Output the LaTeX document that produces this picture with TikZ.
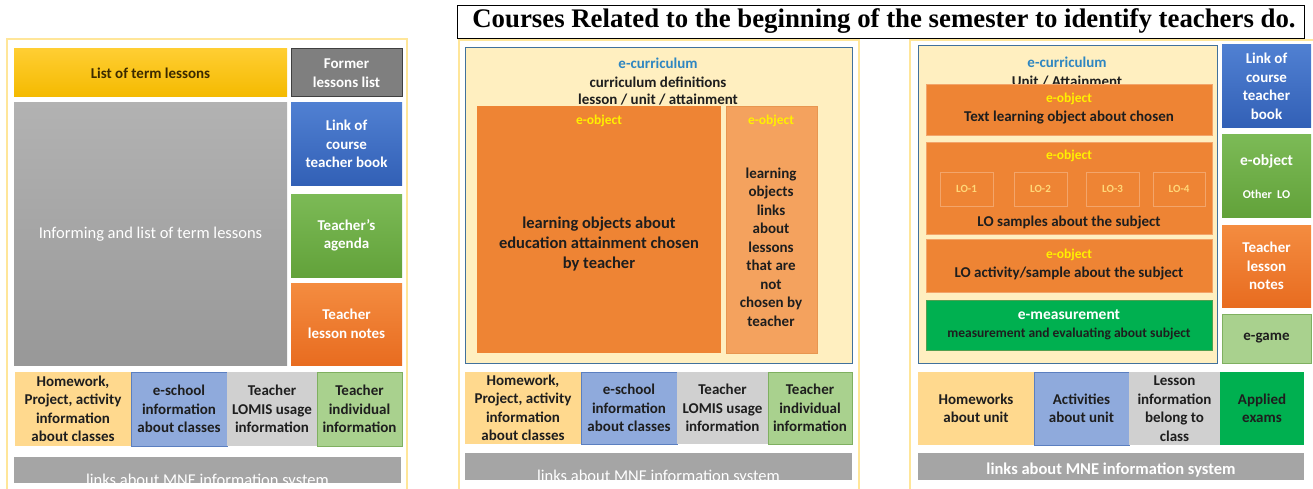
\documentclass[tikz,border=0pt]{standalone}
\usepackage{fontspec}
\setmainfont{Carlito}
\newfontfamily\titlefont{Liberation Serif}
\newcommand\fs[2]{\fontsize{#1}{#2}\selectfont}
\definecolor{cGray}{HTML}{A5A5A5}
\definecolor{cDGray}{HTML}{7F7F7F}
\definecolor{cLYel}{HTML}{FFD98E}
\definecolor{cLBlue}{HTML}{8FAADC}
\definecolor{cLBlueB}{HTML}{5B7FC0}
\definecolor{cLGray}{HTML}{D0D0D0}
\definecolor{cLGreen}{HTML}{A9D18E}
\definecolor{cLGreenB}{HTML}{7FB060}
\definecolor{cPanel}{HTML}{FFE699}
\definecolor{cCurr}{HTML}{FFEFC0}
\definecolor{cCurrB}{HTML}{41719C}
\definecolor{cOrange}{HTML}{EE8434}
\definecolor{cOrangeB}{HTML}{F3A56A}
\definecolor{cLOrange}{HTML}{F4A25E}
\definecolor{cEG}{HTML}{00B050}
\definecolor{cTeal}{HTML}{2E86C1}
\definecolor{cEobj}{HTML}{FFF000}
\definecolor{cDark}{HTML}{1E1E1E}
\definecolor{cBrown}{HTML}{3B2A00}
\newcommand\bx[7]{\node[bxs,#6,minimum width={#4-#2},minimum height={#5-#3},anchor=north west] (#1) at (#2,#3) {#7};}
\tikzset{
  bxs/.style={inner sep=0pt, outer sep=0pt, align=center, font=\bfseries\fs{15}{18.5}, text=white},
  dk/.style={text=cDark},
  panel/.style={draw=cPanel, line width=1.2pt, fill=white},
  gbluec/.style={top color={rgb,255:red,80;green,128;blue,210}, bottom color={rgb,255:red,50;green,96;blue,182}},
  ggreen/.style={top color={rgb,255:red,124;green,186;blue,86}, bottom color={rgb,255:red,98;green,162;blue,58}},
  gorange/.style={top color={rgb,255:red,244;green,140;blue,64}, bottom color={rgb,255:red,232;green,108;blue,32}},
  gyellow/.style={top color={rgb,255:red,255;green,206;blue,50}, bottom color={rgb,255:red,244;green,186;blue,0}},
  ggrayb/.style={top color={rgb,255:red,178;green,178;blue,178}, bottom color={rgb,255:red,152;green,152;blue,152}},
  lyel/.style={fill=cLYel, dk},
  lblue/.style={fill=cLBlue, draw=cLBlueB, line width=0.6pt, dk},
  lgray/.style={fill=cLGray, dk},
  lgreen/.style={fill=cLGreen, draw=cLGreenB, line width=0.6pt, dk},
  bar/.style={fill=cGray},
  bartext/.style={inner sep=0pt, text=white, anchor=base},
  curr/.style={fill=cCurr, draw=cCurrB, line width=0.8pt},
  orng/.style={fill=cOrange, draw=cOrangeB, line width=0.6pt},
  lobox/.style={fill=cOrange, draw=cOrangeB, line width=0.8pt, text={rgb,255:red,255;green,215;blue,120}, font=\bfseries\fs{11}{13}},
  eobj/.style={inner sep=0pt, text=cEobj, font=\bfseries\fs{13.5}{16}},
  lbl/.style={inner sep=0pt, align=center, text=cDark, font=\bfseries\fs{15}{18.5}},
}
\begin{document}
\begin{tikzpicture}[x=1pt,y=-1pt]
\useasboundingbox (0,0) rectangle (1313,489);
\fill[white] (0,0) rectangle (1313,489);
% title
\node[draw=black, line width=1.2pt, minimum width=847, minimum height=33, anchor=north west, inner sep=0pt] (tbox) at (457,5) {};
\node[inner sep=0pt, font=\titlefont\bfseries\fs{26.8}{28}] (title) at (884,21.5) {Courses Related to the beginning of the semester to identify teachers do.};
%%%%%%%%%%%%%% LEFT PANEL
\bx{lp}{7}{39}{407}{495}{panel}{}
\bx{l1}{14}{49}{287}{97}{gyellow,text=cBrown}{List of term lessons}
\bx{l2}{291}{49}{402}{97}{fill=cDGray,draw={rgb,255:red,64;green,64;blue,64},line width=1pt}{Former\\lessons list}
\bx{l3}{14}{103}{287}{365}{ggrayb,font=\fs{16.5}{20}}{Informing and list of term lessons}
\bx{l4}{291}{103}{402}{185}{gbluec}{Link of\\course\\teacher book}
\bx{l5}{291}{194}{402}{277}{ggreen}{Teacher’s\\agenda}
\bx{l6}{291}{283}{402}{365}{gorange}{Teacher\\lesson notes}
\bx{l7}{15}{372}{131}{446}{lyel}{Homework,\\Project, activity\\information\\about classes}
\bx{l8}{131}{372}{227}{446}{lblue}{e-school\\information\\about classes}
\bx{l9}{227}{372}{317}{446}{lgray}{Teacher\\LOMIS usage\\information}
\bx{l10}{317}{372}{402}{446}{lgreen}{Teacher\\individual\\information}
\bx{l11}{14}{457}{401}{483}{bar}{}
\begin{scope}
\clip (14,457) rectangle (401,483);
\node[bartext, font=\fs{16.5}{20}] (l11t) at (207.5,485) {links about MNE information system};
\end{scope}
%%%%%%%%%%%%%% MIDDLE PANEL
\bx{mp}{459}{40}{859}{495}{panel}{}
\bx{m0}{465}{47}{852}{363}{curr}{}
\node[lbl, text=cTeal] (m0a) at (658,63) {e-curriculum};
\node[lbl] (m0b) at (658,82) {curriculum definitions};
\node[lbl] (m0c) at (658,100) {lesson / unit / attainment};
\bx{m1}{477}{106}{721}{353}{fill=cOrange}{}
\bx{m2}{726}{106}{817}{353}{fill=cLOrange,draw={rgb,255:red,232;green,150;blue,80},line width=0.6pt}{}
\node[eobj] (m1e) at (599,121) {e-object};
\node[eobj] (m2e) at (771,121) {e-object};
\node[lbl, font=\bfseries\fs{16.5}{20}] (m1t) at (599,244) {learning objects about\\education attainment chosen\\by teacher};
\node[lbl] (m2t) at (771,247) {learning\\objects\\links\\about\\lessons\\that are\\not\\chosen by\\teacher};
\bx{m7}{465}{372}{581}{444}{lyel}{Homework,\\Project, activity\\information\\about classes}
\bx{m8}{581}{372}{677}{444}{lblue}{e-school\\information\\about classes}
\bx{m9}{677}{372}{768}{444}{lgray}{Teacher\\LOMIS usage\\information}
\bx{m10}{768}{372}{852}{444}{lgreen}{Teacher\\individual\\information}
\bx{m11}{465}{453}{852}{480}{bar}{}
\begin{scope}
\clip (465,453) rectangle (852,480);
\node[bartext, font=\fs{16.5}{20}] (m11t) at (658.5,481) {links about MNE information system};
\end{scope}
%%%%%%%%%%%%%% RIGHT PANEL
\bx{rp}{910}{40}{1320}{495}{panel}{}
\bx{r0}{918}{45}{1217}{363}{curr}{}
\node[lbl, text=cTeal] (r0a) at (1067,62) {e-curriculum};
\node[lbl, anchor=base] (r0b) at (1067,87) {Unit / Attainment};
\bx{r1}{926}{84}{1212}{135}{orng}{}
\node[eobj] (r1e) at (1069,99) {e-object};
\node[lbl] (r1t) at (1069,118) {Text learning object about chosen};
\bx{r2}{926}{142}{1212}{234}{orng}{}
\node[eobj] (r2e) at (1069,156) {e-object};
\bx{lo1}{940}{172}{993}{206}{lobox}{LO-1}
\bx{lo2}{1014}{172}{1067}{206}{lobox}{LO-2}
\bx{lo3}{1086}{172}{1139}{206}{lobox}{LO-3}
\bx{lo4}{1153}{172}{1205}{206}{lobox}{LO-4}
\node[lbl] (r2t) at (1069,223) {LO samples about the subject};
\bx{r3}{926}{239}{1212}{292}{orng}{}
\node[eobj] (r3e) at (1069,255) {e-object};
\node[lbl] (r3t) at (1069,273) {LO activity/sample about the subject};
\bx{r4}{926}{300}{1212}{350}{fill=cEG,draw={rgb,255:red,80;green,160;blue,80},line width=0.6pt}{}
\node[lbl, text=white, font=\bfseries\fs{15.5}{18}] (r4a) at (1069,315) {e-measurement};
\node[lbl, font=\bfseries\fs{13.5}{16}] (r4b) at (1069,334) {measurement and evaluating about subject};
\bx{rb}{1222}{45}{1311}{128}{gbluec}{Link of\\course\\teacher\\book}
\bx{rg}{1222}{135}{1311}{217}{ggreen}{}
\node[inner sep=0pt, text=white, font=\bfseries\fs{15.5}{18}] (rga) at (1266.5,161) {e-object};
\node[inner sep=0pt, text=white, font=\bfseries\fs{12}{14}] (rgb) at (1266.5,194) {Other~ LO};
\bx{ro}{1222}{225}{1311}{307}{gorange}{Teacher\\lesson\\notes}
\bx{re}{1222}{314}{1311}{363}{lgreen}{e-game}
\bx{r7}{918}{372}{1034}{445}{lyel}{Homeworks\\about unit}
\bx{r8}{1034}{372}{1129}{445}{lblue}{Activities\\about unit}
\bx{r9}{1129}{372}{1220}{445}{lgray}{Lesson\\information\\belong to\\class}
\bx{r10}{1220}{372}{1304}{445}{fill=cEG,dk}{Applied\\exams}
\bx{r11}{918}{453}{1304}{480}{bar}{}
\begin{scope}
\clip (918,453) rectangle (1304,480);
\node[bartext, font=\bfseries\fs{16.5}{20}] (r11t) at (1111,474) {links about MNE information system};
\end{scope}
\end{tikzpicture}
\end{document}
